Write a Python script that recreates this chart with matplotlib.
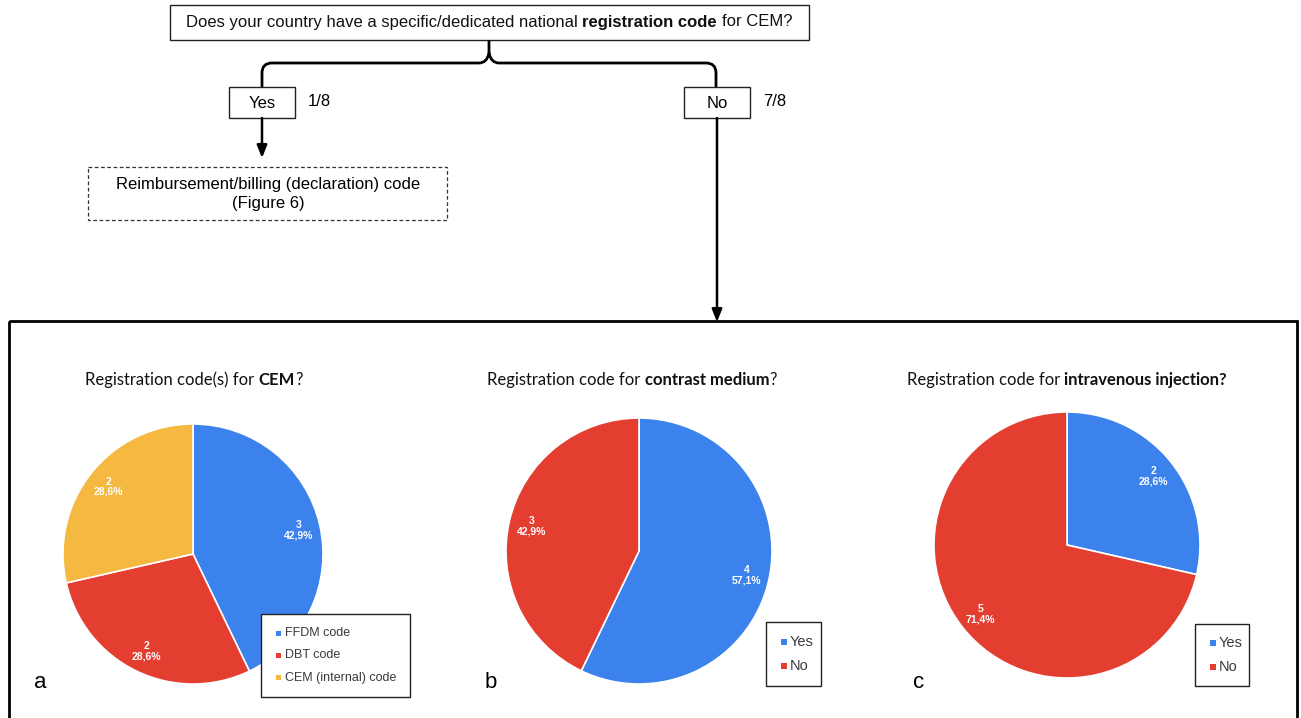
import matplotlib
matplotlib.use("Agg")
import matplotlib.pyplot as plt
from matplotlib.patches import Rectangle, PathPatch
from matplotlib.path import Path

# ---- data ----
q_main = ["Does your country have a specific/dedicated national ", "registration code", " for CEM?"]
branch_labels = ["Yes", "No"]
branch_fracs = ["1/8", "7/8"]
yes_target = "Reimbursement/billing (declaration) code\n(Figure 6)"

a_labels = ["FFDM code", "DBT code", "CEM (internal) code"]
a_counts = [3, 2, 2]
b_labels = ["Yes", "No"]
b_counts = [4, 3]
c_labels = ["Yes", "No"]
c_counts = [2, 5]

titles = [
    ["Registration code(s) for ", "CEM", "?"],
    ["Registration code for ", "contrast medium", "?"],
    ["Registration code for ", "intravenous injection?"],
]
panel_letters = ["a", "b", "c"]

BLUE = "#3B82EC"
RED = "#E43E31"
YELLOW = "#F5B840"

FLOW = "Liberation Sans"
SANS = "Lato"
ARIAL = "Liberation Sans"

W, H = 1301, 718
fig = plt.figure(figsize=(W / 100, H / 100), dpi=100)


def pixel_axes(z):
    a = fig.add_axes([0, 0, 1, 1])
    a.set_xlim(0, W)
    a.set_ylim(H, 0)
    a.axis("off")
    a.set_zorder(z)
    a.patch.set_visible(False)
    return a


bg = pixel_axes(0)
ov = pixel_axes(5)
renderer = fig.canvas.get_renderer()


def text_width(ax, s, family, size, weight):
    t = ax.text(0, 0, s, family=family, fontsize=size, fontweight=weight)
    w = t.get_window_extent(renderer).width
    t.remove()
    return w


def mixed_text(ax, x, y, parts, family, size, bold_idx):
    """Draw a centered line made of regular/bold pieces."""
    weights = ["bold" if i in bold_idx else "normal" for i in range(len(parts))]
    objs, advances = [], []
    for i, p in enumerate(parts):
        t = ax.text(0, y, p.strip(), family=family, fontsize=size, va="center", ha="left",
                    fontweight=weights[i], color="#111111")
        objs.append(t)
        if i < len(parts) - 1:
            nxt = parts[i + 1].strip()[0]
            sep = " " if (p.endswith(" ") or parts[i + 1].startswith(" ")) else ""
            adv = (text_width(ax, p.strip() + sep + nxt, family, size, weights[i])
                   - text_width(ax, nxt, family, size, weights[i]))
        else:
            adv = t.get_window_extent(renderer).width
        advances.append(adv)
    cur = x - sum(advances) / 2
    for o, a in zip(objs, advances):
        o.set_x(cur)
        cur += a


# top question box
bg.add_patch(Rectangle((170, 5), 639, 35, fill=False, lw=1.0, ec="#222222"))
mixed_text(bg, 489, 22, q_main, FLOW, 12, {1})

# brace connecting the question to both answers
verts = [(262, 88), (262, 73), (262, 63), (272, 63), (479, 63), (487, 63), (489, 53),
         (489, 40), (489, 53), (491, 63), (499, 63), (706, 63), (716, 63), (716, 73), (716, 88)]
codes = [Path.MOVETO, Path.LINETO, Path.CURVE3, Path.CURVE3, Path.LINETO, Path.CURVE3, Path.CURVE3,
         Path.LINETO, Path.MOVETO, Path.CURVE3, Path.CURVE3, Path.LINETO, Path.CURVE3, Path.CURVE3, Path.LINETO]
bg.add_patch(PathPatch(Path(verts, codes), fill=False, lw=2.0, ec="black", capstyle="butt"))

# answer boxes
for (bx, label, frac) in [(229, branch_labels[0], branch_fracs[0]), (684, branch_labels[1], branch_fracs[1])]:
    bg.add_patch(Rectangle((bx, 87), 66, 31, fc="white", lw=1.0, ec="#222222", zorder=3))
    bg.text(bx + 33, 103, label, family=FLOW, fontsize=12, ha="center", va="center", zorder=4)
    bg.text(bx + 79, 102, frac, family=FLOW, fontsize=12, ha="left", va="center")

# arrows
arrow_kw = dict(arrowstyle="-|>,head_length=0.75,head_width=0.3", lw=1.8, color="black",
                shrinkA=0, shrinkB=0)
bg.annotate("", xy=(262, 158), xytext=(262, 118), arrowprops=arrow_kw)
bg.annotate("", xy=(717, 322), xytext=(717, 118), arrowprops=arrow_kw)

# dashed target box
bg.add_patch(Rectangle((88, 167), 359, 53, fill=False, lw=0.9, ec="#333333", ls=(0, (3, 2))))
bg.text(268, 194, yes_target, family=FLOW, fontsize=12, ha="center", va="center",
        linespacing=1.4)

# lower frame
bg.add_patch(Rectangle((9, 321), 1288, 420, fill=False, lw=2.0, ec="black"))


def fmt_factory(counts):
    total = sum(counts)

    def fmt(pct):
        n = int(round(pct * total / 100))
        return f"{n}\n{pct:.1f}%".replace(".", ",")
    return fmt


def pie_panel(cx, cy, r, counts, colors, labels, legend_box, legend_size, title_x, title,
              bold_idx, letter, letter_x):
    ax = fig.add_axes([(cx - r) / W, 1 - (cy + r) / H, 2 * r / W, 2 * r / H])
    ax.set_zorder(1)
    wedges, _, autotexts = ax.pie(counts, colors=colors, startangle=90, counterclock=False,
                                  autopct=fmt_factory(counts), pctdistance=0.83,
                                  wedgeprops=dict(edgecolor="white", linewidth=1.2),
                                  textprops=dict(color="white", fontsize=7.5, fontweight="bold",
                                                 family=ARIAL, linespacing=1.05))
    for t in autotexts:
        t.set_ha("center")
    ax.set_xlim(-1, 1)
    ax.set_ylim(-1, 1)
    ax.set_aspect("equal")
    ax.axis("off")
    # legend box
    lx, ly, lw_, lh = legend_box
    ov.add_patch(Rectangle((lx, ly), lw_, lh, fc="white", ec="#222222", lw=1.0))
    n = len(labels)
    step = 22 if n > 2 else 24
    sq = 5 if n > 2 else 5.5
    y0 = ly + lh / 2 - step * (n - 1) / 2
    for i, (lab, col) in enumerate(zip(labels, colors)):
        yy = y0 + i * step
        ov.add_patch(Rectangle((lx + 15, yy - sq / 2), sq, sq, fc=col, ec="none"))
        ov.text(lx + 24, yy, lab, family=ARIAL, fontsize=legend_size, color="#3a3a3a",
                ha="left", va="center")
    mixed_text(bg, title_x, 380, title, SANS, 12, bold_idx)
    bg.text(letter_x, 683, letter, family=ARIAL, fontsize=16, ha="center", va="center")


pie_panel(193, 554, 130, a_counts, [BLUE, RED, YELLOW], a_labels, (261, 614, 149, 83), 9,
          194, titles[0], {1}, panel_letters[0], 40)
pie_panel(639, 551, 133, b_counts, [BLUE, RED], b_labels, (766, 622, 55, 64), 10.5,
          632, titles[1], {1}, panel_letters[1], 491)
pie_panel(1067, 545, 133, c_counts, [BLUE, RED], c_labels, (1195, 624, 54, 62), 10.5,
          1067, titles[2], {1}, panel_letters[2], 919)

fig.savefig("out.png", dpi=100)
